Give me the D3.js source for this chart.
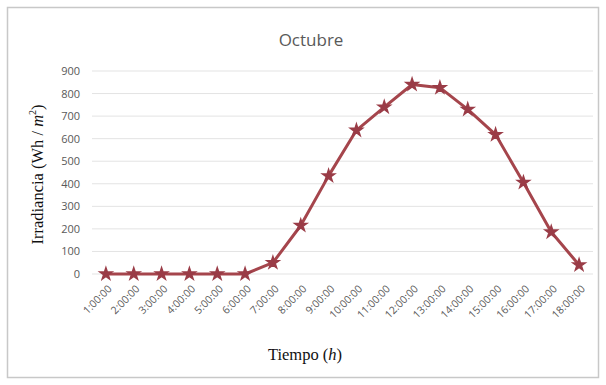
<!DOCTYPE html>
<html>
<head>
<meta charset="utf-8">
<script src="https://cdn.jsdelivr.net/npm/d3@7"></script>
<style>
  body { margin: 0; background: #fff; }
  svg text { font-family: "Open Sans", "Liberation Sans", sans-serif; }
</style>
</head>
<body>
<div id="chart"></div>
<script>
// data
const hours = ["1:00:00","2:00:00","3:00:00","4:00:00","5:00:00","6:00:00","7:00:00","8:00:00","9:00:00",
               "10:00:00","11:00:00","12:00:00","13:00:00","14:00:00","15:00:00","16:00:00","17:00:00","18:00:00"];
const irradiance = [0, 0, 0, 0, 0, 0, 50, 215, 435, 637, 740, 840, 826, 730, 618, 406, 186, 40];
const yTicks = [0, 100, 200, 300, 400, 500, 600, 700, 800, 900];

const W = 606, H = 385;
const MARGIN = {top: 71, right: 13, bottom: 111, left: 92};
const width = W - MARGIN.left - MARGIN.right;
const height = H - MARGIN.top - MARGIN.bottom;

const svg = d3.select("#chart").append("svg")
    .attr("width", W)
    .attr("height", H);

// outer frame
svg.append("rect")
    .attr("x", 7.5).attr("y", 7.5)
    .attr("width", 591).attr("height", 370)
    .attr("fill", "#fff")
    .attr("stroke", "#c8c8c8")
    .attr("stroke-width", 1.5);

const g = svg.append("g")
    .attr("transform", `translate(${MARGIN.left},${MARGIN.top})`);

const x = d3.scaleBand().domain(hours).range([0, width]);
const y = d3.scaleLinear().domain([0, 900]).range([height, 0]);

// gridlines
g.append("g")
    .selectAll("line")
    .data(yTicks)
    .join("line")
        .attr("x1", 0).attr("x2", width)
        .attr("y1", d => y(d)).attr("y2", d => y(d))
        .attr("stroke", "#e3e3e3")
        .attr("stroke-width", 1);

// y axis labels
const yAxis = g.append("g")
    .call(d3.axisLeft(y).tickValues(yTicks).tickSize(0).tickPadding(12));
yAxis.select(".domain").remove();
yAxis.selectAll("text").attr("fill", "#595959").attr("font-size", 11);

// x axis labels, slanted
const xAxis = g.append("g")
    .attr("transform", `translate(0,${height})`)
    .call(d3.axisBottom(x).tickSize(0));
xAxis.select(".domain").remove();
xAxis.selectAll("text")
    .attr("fill", "#595959")
    .attr("font-size", 10.5)
    .attr("text-anchor", "end")
    .attr("x", 0).attr("y", 0)
    .attr("dy", "0.35em")
    .attr("transform", "translate(4,13) rotate(-45)");

const cx = d => x(d) + x.bandwidth() / 2;

const line = d3.line()
    .x((d, i) => cx(hours[i]))
    .y(d => y(d));

g.append("path")
    .datum(irradiance)
    .attr("fill", "none")
    .attr("stroke", "#a5454c")
    .attr("stroke-width", 3)
    .attr("stroke-linejoin", "round")
    .attr("d", line);

// markers
g.append("g")
    .selectAll("path")
    .data(irradiance)
    .join("path")
        .attr("transform", (d, i) => `translate(${cx(hours[i])},${y(d)})`)
        .attr("d", d3.symbol().type(d3.symbolStar).size(45))
        .attr("fill", "#9a3c47")
        .attr("stroke", "#9a3c47")
        .attr("stroke-width", 1.5);

// title
svg.append("text")
    .attr("x", 311).attr("y", 46)
    .attr("text-anchor", "middle")
    .attr("font-size", 17)
    .attr("fill", "#595959")
    .text("Octubre");

// axis titles
svg.append("text")
    .attr("transform", `translate(43,${MARGIN.top + height / 2 + 2}) rotate(-90)`)
    .attr("text-anchor", "middle")
    .attr("font-size", 16.5)
    .style("font-family", "'Liberation Serif', 'DejaVu Serif', serif")
    .attr("fill", "#111")
    .html("Irradiancia (Wh / <tspan font-style='italic'>m</tspan><tspan font-size='10' dy='-7'>2</tspan><tspan dy='7'>)</tspan>");

svg.append("text")
    .attr("x", 305).attr("y", 360)
    .attr("text-anchor", "middle")
    .attr("font-size", 16.5)
    .style("font-family", "'Liberation Serif', 'DejaVu Serif', serif")
    .attr("fill", "#111")
    .html("Tiempo (<tspan font-style='italic'>h</tspan>)");
</script>
</body>
</html>
